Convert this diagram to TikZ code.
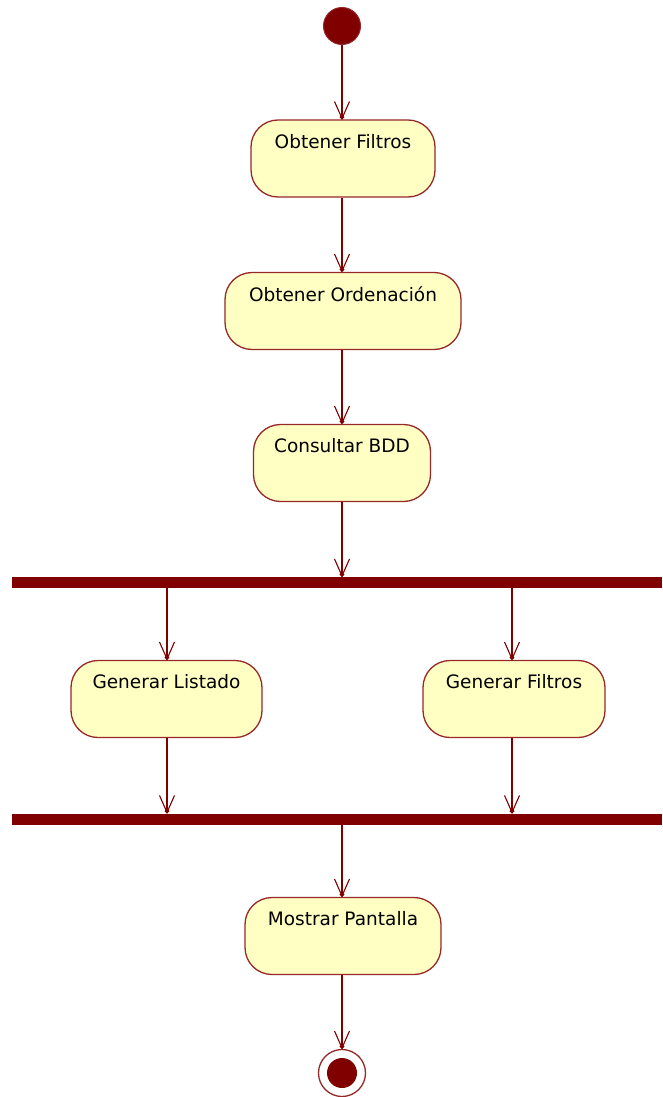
\documentclass[tikz,border=0pt]{standalone}
\usepackage{fontspec}
\setmainfont{DejaVu Sans}
\usetikzlibrary{arrows.meta}
\definecolor{umlred}{RGB}{128,0,0}
\definecolor{umlborder}{RGB}{150,40,40}
\definecolor{umlfill}{RGB}{255,255,196}
\tikzset{
  act/.style={draw=umlborder, line width=1.3pt, fill=umlfill, rounded corners=27pt, minimum height=77pt, inner sep=0pt},
  lbl/.style={anchor=center, font=\fontsize{18.5}{20}\selectfont, text=black},
  bar/.style={fill=umlred, draw=none, minimum width=650pt, minimum height=11pt, inner sep=0pt},
  flow/.style={draw=umlred, line width=1.3pt, -{Straight Barb[length=17pt,width=15pt,line width=1.1pt,sep=-5pt] Circle[length=4.5pt]}}
}
\begin{document}
\begin{tikzpicture}[x=1pt,y=-1pt]
\useasboundingbox (0,0) rectangle (662,1097);
\node[circle, fill=umlred, draw=umlred!85!white, line width=1pt, minimum size=37pt, inner sep=0pt] (start) at (342,26) {};
\node[act, minimum width=184pt, label={[lbl, yshift=-22pt]north:Obtener Filtros}] (of) at (343,158.5) {};
\node[act, minimum width=236pt, label={[lbl, yshift=-22pt]north:Obtener Ordenación}] (oo) at (343,311) {};
\node[act, minimum width=177pt, label={[lbl, yshift=-22pt]north:Consultar BDD}] (cb) at (342,463) {};
\node[bar] (f1) at (337,582.5) {};
\node[act, minimum width=191pt, label={[lbl, yshift=-22pt]north:Generar Listado}] (gl) at (166.5,699) {};
\node[act, minimum width=182pt, label={[lbl, yshift=-22pt]north:Generar Filtros}] (gf) at (514,699) {};
\node[bar] (f2) at (337,819) {};
\node[act, minimum width=196pt, label={[lbl, yshift=-22pt]north:Mostrar Pantalla}] (mp) at (343,936) {};
\node[circle, draw=umlborder, line width=1.3pt, fill=white, minimum size=47pt, inner sep=0pt] (end) at (342,1073) {};
\node[circle, fill=umlred, minimum size=30pt, inner sep=0pt] (endin) at (end.center) {};
\draw[flow] (start.south -| 342,0) -- (342,0 |- of.north);
\draw[flow] (342,0 |- of.south) -- (342,0 |- oo.north);
\draw[flow] (342,0 |- oo.south) -- (342,0 |- cb.north);
\draw[flow] (342,0 |- cb.south) -- (342,0 |- f1.north);
\draw[flow] (167,0 |- f1.south) -- (167,0 |- gl.north);
\draw[flow] (512,0 |- f1.south) -- (512,0 |- gf.north);
\draw[flow] (167,0 |- gl.south) -- (167,0 |- f2.north);
\draw[flow] (512,0 |- gf.south) -- (512,0 |- f2.north);
\draw[flow] (342,0 |- f2.south) -- (342,0 |- mp.north);
\draw[flow] (342,0 |- mp.south) -- (end.north);
\end{tikzpicture}
\end{document}
